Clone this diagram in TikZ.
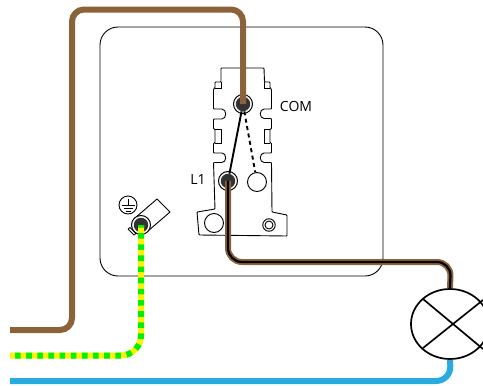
\documentclass[tikz,border=0pt]{standalone}
\usepackage{fontspec}
\usetikzlibrary{shapes.geometric}
\setmainfont{Open Sans}
\definecolor{wirebrown}{HTML}{8C6239}
\definecolor{wireblue}{HTML}{29ABE2}
\definecolor{wiregreen}{HTML}{00F000}
\definecolor{wireyellow}{HTML}{FFF200}
\tikzset{
  thin outline/.style={draw=black,line width=0.9pt},
  wire/.style={line width=6pt,rounded corners=12pt},
  lbl/.style={font=\fontsize{14}{16}\selectfont,text=black,inner sep=0pt},
  ring/.style={circle,draw=black,line width=1pt,fill=white,minimum size=19pt,inner sep=0pt},
  core/.style={circle,fill=black!80,minimum size=14.5pt,inner sep=0pt}
}
\begin{document}
\begin{tikzpicture}[x=1pt,y=-1pt]
\useasboundingbox (0,0) rectangle (483,386);
% plate
\draw[line width=0.9pt,rounded corners=18pt] (100,27) rectangle (383,276);
% switch body
\draw[thin outline,line join=round,rounded corners=0.8pt]
 (221,68) -- (264,68) -- (264.5,82) -- (270,82) -- (270,88) -- (271.5,89) -- (271.5,109)
 -- (265,109) .. controls (259,109) and (259,118.5) .. (265,118.5) -- (271.5,118.5) -- (271.5,129)
 -- (270,129) -- (270,143) -- (271.5,143) -- (271.5,153)
 -- (265,153) .. controls (259,153) and (259,162.5) .. (265,162.5) -- (271.5,162.5) -- (272,212)
 -- (287,215) -- (287,236) -- (199,235) -- (197,212) -- (215,209) -- (213.5,162.5)
 -- (221,162.5) .. controls (227,162.5) and (227,153) .. (221,153) -- (213.5,153)
 -- (213.5,143) -- (215,143) -- (215,129) -- (213.5,129) -- (213.5,119)
 -- (221,119) .. controls (227,119) and (227,109) .. (221,109) -- (213.5,109)
 -- (213.5,89) -- (215,88) -- (215,82) -- (221,82) -- cycle;
\draw[thin outline] (215,88) -- (221,88) -- (221,82);
\draw[thin outline] (270,88) -- (264.5,88) -- (264.5,82);
\draw[thin outline] (215,129) -- (221,129) -- (221,143) -- (215,143);
\draw[thin outline] (270,129) -- (264.5,129) -- (264.5,143) -- (270,143);
% holes
\node[circle,thin outline,minimum size=19pt,inner sep=0pt] (holeA) at (214,223) {};
\node[circle,thin outline,minimum size=12.5pt,inner sep=0pt] (holeB) at (269,225) {};
\node[circle,thin outline,minimum size=8pt,inner sep=0pt] (holeC) at (269,225) {};
\node[circle,thin outline,minimum size=19pt,inner sep=0pt] (holeD) at (257,182) {};
% terminals
\node[ring] (comring) at (243,104) {};
\node[core] (com) at (243,104) {};
\node[ring] (l1ring) at (228,181) {};
\node[core] (l1) at (228,181) {};
% contacts
\draw[line width=1.9pt] (com) -- (l1);
\draw[line width=1.9pt,dash pattern=on 4pt off 3.5pt] (com) -- (holeD);
% labels
\node[lbl] (comlabel) at (296,106) {COM};
\node[lbl] (l1label) at (198,180) {L1};
% ground lug
\draw[thin outline,line join=round,fill=white] (157,199) -- (170,212) -- (148,231) -- (135,218) -- cycle;
\draw[line width=0.8pt] (128,229) -- (134,235) (130,227.5) -- (136,233.5) (132,226) -- (138,232) (128,229) -- (130,227.5) (134,235) -- (136,233.5);
\node[ring] (gndring) at (141,225) {};
\node[core] (gnd) at (141,225) {};
% earth symbol
\node[circle,thin outline,minimum size=18pt,inner sep=0pt] (earth) at (128,205) {};
\draw[line width=0.8pt] (128,198.5) -- (128,205) (121.5,205) -- (134.5,205) (123.5,208) -- (132.5,208) (125.5,211) -- (130.5,211);
% lamp
\node[ellipse,draw=black,line width=1.7pt,fill=white,minimum width=78pt,minimum height=70pt,inner sep=0pt] (lamp) at (450,324) {};
\draw[line width=1.7pt] (423,299) -- (483,349) (483,300) -- (423,348);
% wires
\coordinate (brownstart) at (10,330);
\coordinate (earthstart) at (10,355.5);
\coordinate (bluestart) at (10,381);
\draw[wire,wirebrown] (brownstart) -- (72,330) -- (72,9.5) -- (243,9.5) -- (com.center);
\draw[wire,wireyellow,rounded corners=20pt] (earthstart) -- (141,355.5) -- (gnd.center);
\draw[wire,wiregreen,rounded corners=20pt,dash pattern=on 5.6pt off 5.55pt,dash phase=-5pt] (earthstart) -- (141,355.5) -- (gnd.center);
\draw[wire,wireblue,rounded corners=15pt] (bluestart) -- (451,381) -- (lamp.south);
\draw[wire,wirebrown,rounded corners=14pt] (l1.center) -- (228,262) -- (451,262) -- (lamp.north);
\draw[line width=2.2pt,black,rounded corners=14pt] (l1.center) -- (228,262) -- (451,262) -- (lamp.north);
\end{tikzpicture}
\end{document}
